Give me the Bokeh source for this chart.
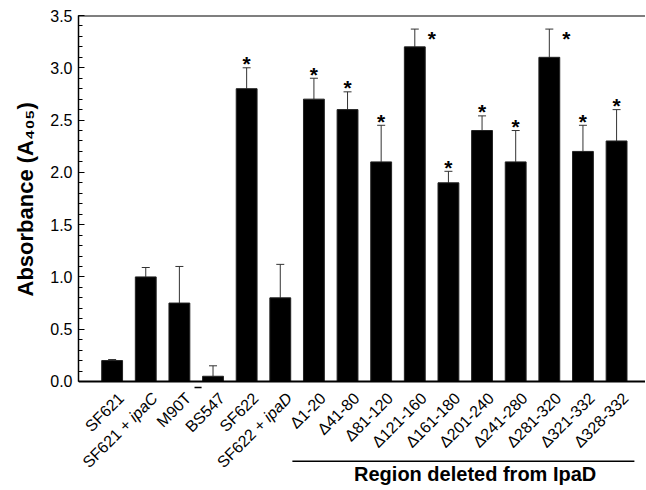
from math import pi, cos, sin
from bokeh.plotting import figure
from bokeh.models import (Range1d, FixedTicker, PrintfTickFormatter, Whisker,
                          TeeHead, Span, Title, ColumnDataSource)
from bokeh.core.properties import value
from bokeh.embed import file_html
from bokeh.resources import INLINE

# ---- data ----
categories = ["SF621", "SF621 + ipaC", "M90T", "BS547", "SF622", "SF622 + ipaD",
              "Δ1-20", "Δ41-80", "Δ81-120", "Δ121-160", "Δ161-180", "Δ201-240",
              "Δ241-280", "Δ281-320", "Δ321-332", "Δ328-332"]
absorbance = [0.20, 1.00, 0.75, 0.05, 2.80, 0.80, 2.70, 2.60, 2.10, 3.20,
              1.90, 2.40, 2.10, 3.10, 2.20, 2.30]
errors = [0.01, 0.09, 0.35, 0.10, 0.20, 0.32, 0.20, 0.17, 0.35, 0.17,
          0.11, 0.14, 0.30, 0.27, 0.25, 0.30]
significant = [False, False, False, False, True, False, True, True, True, True,
               True, True, True, True, True, True]
y_ticks = [0.0, 0.5, 1.0, 1.5, 2.0, 2.5, 3.0, 3.5]
y_title = "Absorbance (A₄₀₅)"
group_label = "Region deleted from IpaD"
first_deleted = 7  # position of the first "Δ" category

FONT = "Liberation Sans"
LABEL_PX = 16

n = len(categories)
xs = list(range(1, n + 1))
tops = [v + e for v, e in zip(absorbance, errors)]

p = figure(width=645, height=489, x_range=Range1d(0, 16.86), y_range=Range1d(-1.033, 3.5),
           output_backend="svg", toolbar_location=None, x_axis_location=None,
           min_border_left=78, min_border_right=0, min_border_top=15, min_border_bottom=0)
p.outline_line_color = None
p.xgrid.visible = False
p.ygrid.visible = False
p.background_fill_color = "white"
p.border_fill_color = "white"

src = ColumnDataSource(dict(x=xs, y=absorbance, top=tops))
p.vbar(x="x", top="y", width=0.62, source=src, fill_color="black", line_color="#222222", line_width=1)

wh = Whisker(base="x", lower="y", upper="top", source=src, dimension="height",
             line_color="#333333", line_width=1, lower_head=None,
             upper_head=TeeHead(size=8, line_color="#333333", line_width=1))
p.add_layout(wh)

# asterisks
sx, sy, sdx, sdy = [], [], [], []
for x, t, s in zip(xs, tops, significant):
    if s:
        sx.append(x)
        sy.append(t)
        if t > 3.3:
            sdx.append(17); sdy.append(9)
        else:
            sdx.append(0); sdy.append(-4)
p.text(x=sx, y=sy, text=["*"] * len(sx), x_offset=sdx, y_offset=sdy,
       text_font=value(FONT), text_font_style="bold", text_font_size="21px",
       text_align="center", text_baseline="alphabetic", text_color="black")

# top border line and x axis line
p.add_layout(Span(location=3.5, dimension="width", line_color="black", line_width=2))
p.add_layout(Span(location=0, dimension="width", line_color="black", line_width=2))

# y axis
ya = p.yaxis[0]
ya.bounds = (0, 3.5)
ya.ticker = FixedTicker(ticks=y_ticks, minor_ticks=[i / 10 for i in range(36)])
ya.formatter = PrintfTickFormatter(format="%.1f")
ya.major_tick_in = 6
ya.major_tick_out = 0
ya.minor_tick_in = 4
ya.minor_tick_out = 0
ya.axis_line_width = 1.5
ya.major_label_standoff = 6
ya.major_label_text_font = FONT
ya.major_label_text_font_size = "16px"
ya.major_label_text_color = "black"

p.add_layout(Title(text=y_title, align="left", offset=193, standoff=16, vertical_align="top",
                   text_font=FONT, text_font_style="bold", text_font_size="22px",
                   text_color="black"), "left")

# rotated category labels (gene names after " + " in italics)
ang = pi / 4
ux, uy = cos(ang), -sin(ang)          # text direction on screen
base_dx, base_dy = 9, 14              # anchor offset below each bar
plain_x, plain_t, plain_dx, plain_dy = [], [], [], []
ital_x, ital_t = [], []
for x, c in zip(xs, categories):
    if " + " in c:
        head, gene = c.split(" + ")
        ital_x.append(x); ital_t.append(gene)
        shift = 2.334 * LABEL_PX   # width of " ipaX" (Arial metrics)
        plain_x.append(x); plain_t.append(head + " +")
        plain_dx.append(base_dx - shift * ux); plain_dy.append(base_dy - shift * uy)
    else:
        plain_x.append(x); plain_t.append(c)
        plain_dx.append(base_dx); plain_dy.append(base_dy)
p.text(x=plain_x, y=[0] * len(plain_x), text=plain_t, x_offset=plain_dx, y_offset=plain_dy,
       angle=ang, text_font=value(FONT), text_font_size=f"{LABEL_PX}px",
       text_align="right", text_baseline="middle", text_color="black")
p.text(x=ital_x, y=[0] * len(ital_x), text=ital_t, x_offset=base_dx, y_offset=base_dy,
       angle=ang, text_font=value(FONT), text_font_style="italic", text_font_size=f"{LABEL_PX}px",
       text_align="right", text_baseline="middle", text_color="black")

# small stray dash beside the M90T label
p.segment(x0=[3.45], y0=[-0.057], x1=[3.66], y1=[-0.057], line_color="black", line_width=1.5)

# group bracket and its label
bx0, bx1 = first_deleted - 0.64, n + 0.53
p.segment(x0=[bx0], y0=[-0.762], x1=[bx1], y1=[-0.762], line_color="black", line_width=1.5)
p.text(x=[(bx0 + bx1) / 2 + 0.35], y=[-0.885], text=[group_label],
       text_font=value(FONT), text_font_style="bold", text_font_size="20px",
       text_align="center", text_baseline="middle", text_color="black")

open("out.html", "w").write(file_html(p, INLINE))
